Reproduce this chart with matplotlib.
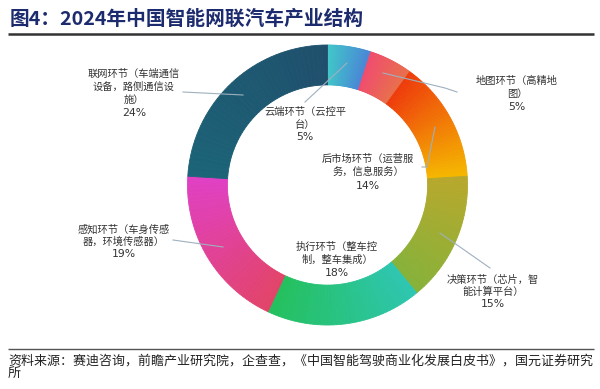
import matplotlib
matplotlib.use("Agg")
import matplotlib.pyplot as plt
import numpy as np
from matplotlib.colors import to_rgb

plt.rcParams['font.family'] = ['Noto Sans CJK SC', 'DejaVu Sans']

# ---- data ----
categories = ["云端环节（云控平台）", "地图环节（高精地图）", "后市场环节（运营服务，信息服务）",
              "决策环节（芯片，智能计算平台）", "执行环节（整车控制，整车集成）",
              "感知环节（车身传感器，环境传感器）", "联网环节（车端通信设备，路侧通信设施）"]
label_lines = [["云端环节（云控平", "台）"],
               ["地图环节（高精地", "图）"],
               ["后市场环节（运营服", "务，信息服务）"],
               ["决策环节（芯片，智", "能计算平台）"],
               ["执行环节（整车控", "制，整车集成）"],
               ["感知环节（车身传感", "器，环境传感器）"],
               ["联网环节（车端通信", "设备，路侧通信设", "施）"]]
values = [5, 5, 14, 15, 18, 19, 24]
pct_labels = ["5%", "5%", "14%", "15%", "18%", "19%", "24%"]

# gradient colours (start -> end along clockwise direction)
grad_start = ["#40c8c8", "#f04c70", "#ee3a0c", "#b8a82c", "#2ec6b2", "#e24468", "#1c6478"]
grad_end   = ["#4a86d6", "#e8704c", "#f5b800", "#86b23a", "#24c05c", "#e040c4", "#1f4f6c"]

W, H = 600, 389
fig = plt.figure(figsize=(W / 100, H / 100), dpi=100)

# donut axes
cx, cy, R = 327.5, 185, 140
ax = fig.add_axes([(cx - R) / W, (H - cy - R) / H, 2 * R / W, 2 * R / H])
N = 40
sub_vals, sub_cols = [], []
for v, c0, c1 in zip(values, grad_start, grad_end):
    a, b = np.array(to_rgb(c0)), np.array(to_rgb(c1))
    for k in range(N):
        t = (k + 0.5) / N
        sub_vals.append(v / N)
        sub_cols.append(tuple(a + (b - a) * t))
wedges, _ = ax.pie(sub_vals, colors=sub_cols, startangle=90, counterclock=False,
                   radius=1.0, wedgeprops=dict(width=0.285))
for w_, c in zip(wedges, sub_cols):
    w_.set_edgecolor(c)
    w_.set_linewidth(0.6)
ax.set_xlim(-1, 1)
ax.set_ylim(-1, 1)
ax.axis("off")

# overlay axes in pixel coordinates
ov = fig.add_axes([0, 0, 1, 1])
ov.set_xlim(0, W)
ov.set_ylim(H, 0)
ov.axis("off")
ov.patch.set_alpha(0)

# title
ov.text(10, 19, "图4：2024年中国智能网联汽车产业结构", fontsize=14.2, fontweight="bold",
        color="#1c2a6e", va="center", ha="left")
ov.plot([8, 594], [34, 34], color="#333333", lw=1.8, solid_capstyle="butt")
ov.plot([8, 594], [349, 349], color="#555555", lw=1.0, solid_capstyle="butt")
ov.text(8, 361, "资料来源：赛迪咨询，前瞻产业研究院，企查查，《中国智能驾驶商业化发展白皮书》，国元证券研究",
        fontsize=9.35, color="#222222", va="center", ha="left")
ov.text(8, 374, "所", fontsize=9.35, color="#222222", va="center", ha="left")

# labels: (center x, first line y, line spacing)
label_pos = [(305, 112, 12.5), (517, 81, 13), (368, 159, 13.5), (493, 280, 12),
             (337, 247, 13), (124, 230, 12), (134, 74, 13)]
for lines, pct, (x, y, dy) in zip(label_lines, pct_labels, label_pos):
    for i, ln in enumerate(lines):
        ov.text(x, y + i * dy, ln, fontsize=7.4, color="#333333", ha="center", va="center")
    ov.text(x, y + len(lines) * dy, pct, fontsize=7.8, color="#333333", ha="center", va="center",
            family=["DejaVu Sans"])

# leader lines
leader = [
    ([347, 305], [63, 102]),
    ([383, 445, 457], [73, 88, 92]),
    ([435, 427, 422], [127, 167, 167]),
    ([440, 490], [233, 268]),
    ([173, 223], [240, 247]),
    ([183, 243], [92, 95]),
]
for xs, ys in leader:
    ov.plot(xs, ys, color="#9fb0bf", lw=0.8)

fig.savefig("out.png", dpi=100)
